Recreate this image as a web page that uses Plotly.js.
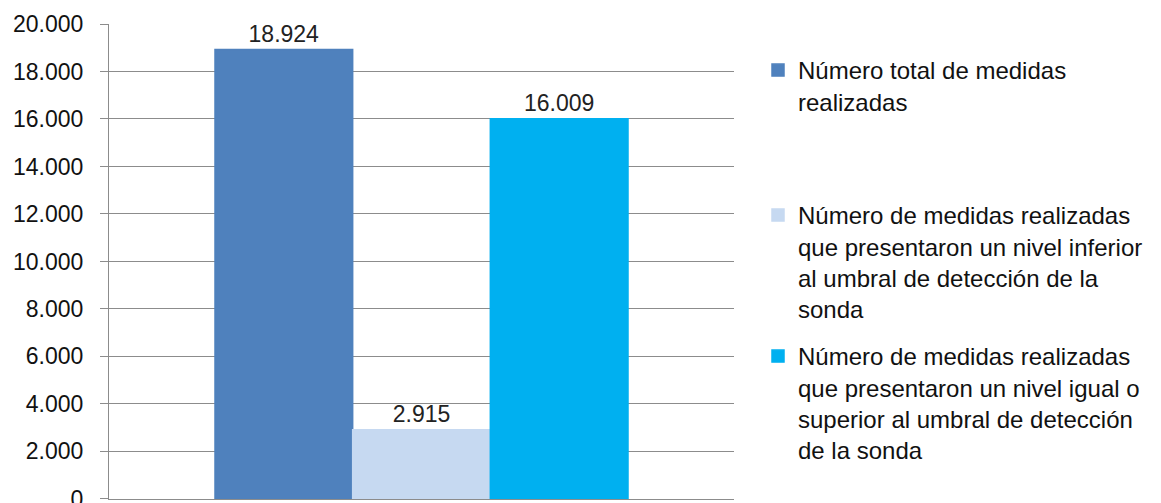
<!DOCTYPE html>
<html>
<head>
<meta charset="utf-8">
<script src="https://cdn.plot.ly/plotly-3.0.1.min.js"></script>
<style>html,body{margin:0;padding:0;background:#fff;}#chart{width:1161px;height:503px;}</style>
</head>
<body>
<div id="chart"></div>
<script>
const categories = [''];
const seriesNames = [
  'Número total de medidas<br>realizadas',
  'Número de medidas realizadas<br>que presentaron un nivel inferior<br>al umbral de detección de la<br>sonda',
  'Número de medidas realizadas<br>que presentaron un nivel igual o<br>superior al umbral de detección<br>de la sonda'
];
const totalMedidas = [18924];
const inferiorUmbral = [2915];
const superiorUmbral = [16009];
const yTicks = [0, 2000, 4000, 6000, 8000, 10000, 12000, 14000, 16000, 18000, 20000];

const colors = ['#4F81BD', '#C6D9F1', '#00B0F0'];
const values = [totalMedidas, inferiorUmbral, superiorUmbral];
const legendIds = ['legend', 'legend2', 'legend3'];
const FONT = 'Liberation Sans, Arial, sans-serif';

const traces = values.map((v, i) => ({
  type: 'bar',
  x: categories,
  y: v,
  name: seriesNames[i],
  legend: legendIds[i],
  marker: {color: colors[i], line: {width: 1.5, color: colors[i]}},
  texttemplate: '%{y:,.0f}',
  textposition: 'outside',
  textfont: {family: FONT, size: 23, color: '#222'},
  cliponaxis: false,
  hoverinfo: 'skip'
}));

const legendBase = {
  xref: 'container', yref: 'container',
  xanchor: 'left', yanchor: 'top',
  font: {family: FONT, size: 24, color: '#111'},
  bgcolor: 'rgba(0,0,0,0)',
  borderwidth: 0,
  valign: 'top',
  itemwidth: 30,
  tracegroupgap: 0
};

const layout = {
  width: 1161, height: 503,
  margin: {l: 109, r: 427, t: 24, b: 4, pad: 0},
  paper_bgcolor: '#fff', plot_bgcolor: '#fff',
  separators: ',.',
  bargap: 0.3392,
  bargroupgap: 0,
  barmode: 'group',
  showlegend: true,
  xaxis: {
    showticklabels: false, showgrid: false, zeroline: false,
    showline: true, linecolor: '#8C8C8C', linewidth: 1,
    ticks: '', fixedrange: true
  },
  yaxis: {
    range: [-4, 20000],
    tickvals: yTicks,
    tickformat: ',.0f',
    showgrid: true, gridcolor: '#8C8C8C', gridwidth: 1,
    zeroline: false,
    showline: true, linecolor: '#8C8C8C', linewidth: 1,
    ticks: 'outside', ticklen: 8, tickcolor: '#8C8C8C', tickwidth: 1,
    ticklabelstandoff: 12,
    ticklabeloverflow: 'allow',
    tickfont: {family: FONT, size: 23, color: '#111'},
    automargin: false, fixedrange: true
  },
  legend: Object.assign({}, legendBase, {x: 758/1161, y: 1 - 48/503}),
  legend2: Object.assign({}, legendBase, {x: 758/1161, y: 1 - 193/503}),
  legend3: Object.assign({}, legendBase, {x: 758/1161, y: 1 - 334/503})
};

Plotly.newPlot('chart', traces, layout, {displayModeBar: false, staticPlot: true});
</script>
</body>
</html>
